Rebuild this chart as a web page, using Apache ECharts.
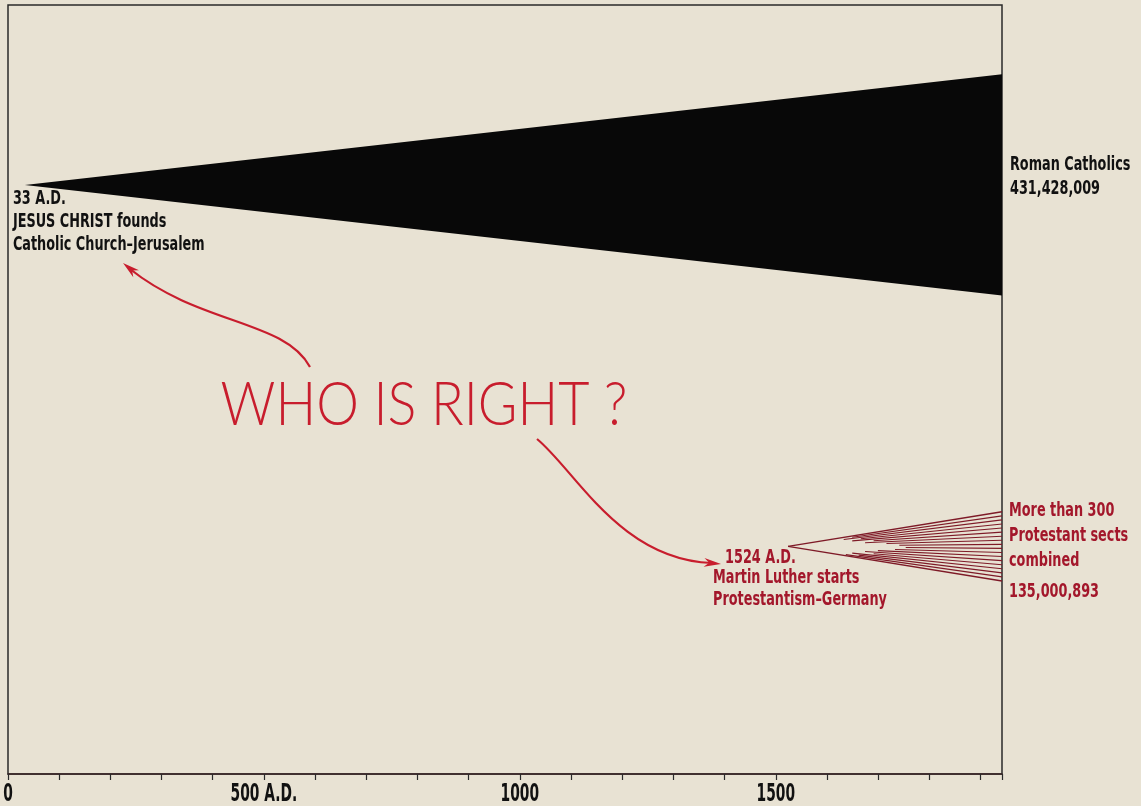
<!DOCTYPE html>
<html>
<head>
<meta charset="utf-8">
<script src="https://cdn.jsdelivr.net/npm/echarts@6/dist/echarts.min.js"></script>
<style>
  html, body { margin: 0; padding: 0; background: #e8e2d3; }
  #chart { width: 1141px; height: 806px; }
</style>
</head>
<body>
<div id="chart"></div>
<script>
// ---- data ----
const groupNames = ['Roman Catholics', 'Protestant sects'];
const startYears = [33, 1524];
const endYears = [1942, 1942];
const membersMillions = [431.428009, 135.000893];
const memberLabels = ['431,428,009', '135,000,893'];
const startLabels = [
  ['33 A.D.', 'JESUS CHRIST founds', 'Catholic Church\u2013Jerusalem'],
  ['1524 A.D.', 'Martin Luther starts', 'Protestantism\u2013Germany']
];
const endLabels = [
  ['Roman Catholics'],
  ['More than 300', 'Protestant sects', 'combined']
];
const tickValues = [0, 500, 1000, 1500];
const tickLabels = ['0', '500 A.D.', '1000', '1500'];
const title = 'WHO IS RIGHT ?';

// ---- layout (not data) ----
const X_MAX = 1942;
const Y_MAX = 1500;
const CENTER = [1149, 444];   // vertical centre of each wedge on the hidden axis
const FONT = '"Liberation Sans Narrow","Arial Narrow","DejaVu Sans Condensed",sans-serif';
const SX = 0.75;              // horizontal squeeze to imitate the condensed type
const BLACK = '#111';
const DARKRED = '#a3172b';
const FANRED = '#7e1a27';
const RED = '#c81d2d';
const fanStarts = [0, 0.3, 0.26, 0.34, 0.3, 0.4, 0.36, 0.46, 0.52, 0.55, 0.5, 0.42, 0.36, 0.4, 0.3, 0.33, 0.27, 0];

const chart = echarts.init(document.getElementById('chart'), null, { renderer: 'canvas' });

function label(x, y, text, color, lh) {
  return {
    type: 'text', x: x, y: y, scaleX: SX,
    style: { text: text, fill: color, fontFamily: FONT, fontWeight: 'bold', fontSize: 19,
             lineHeight: lh || 22, align: 'left', verticalAlign: 'top' }
  };
}

function wedgeItem(params, api) {
  const s = api.value(0), e = api.value(1), m = api.value(2), idx = api.value(3);
  const c = CENTER[idx];
  const apex = api.coord([s, c]);
  const top = api.coord([e, c + m / 2]);
  const bot = api.coord([e, c - m / 2]);
  const mid = api.coord([e, c]);
  const children = [];
  if (idx === 0) {
    children.push({
      type: 'polygon',
      shape: { points: [apex, top, bot] },
      style: { fill: '#080808' }
    });
    children.push(label(apex[0] - 12, apex[1] + 3, startLabels[0].join('\n'), BLACK, 23));
    children.push(label(mid[0] + 8, mid[1] - 32, endLabels[0].concat([memberLabels[0]]).join('\n'), BLACK, 24));
  } else {
    const n = fanStarts.length;
    for (let i = 0; i < n; i++) {
      const t = i / (n - 1);
      const end = [top[0], top[1] + (bot[1] - top[1]) * t];
      const f = fanStarts[i];
      const st = [apex[0] + (end[0] - apex[0]) * f, apex[1] + (end[1] - apex[1]) * f];
      children.push({
        type: 'line',
        shape: { x1: st[0], y1: st[1], x2: end[0], y2: end[1] },
        style: { stroke: FANRED, lineWidth: (i === 0 || i === n - 1) ? 1.5 : 1.1 }
      });
    }
    children.push(label(apex[0] - 63, apex[1] + 1, startLabels[1][0], DARKRED));
    children.push(label(apex[0] - 75, apex[1] + 21, startLabels[1].slice(1).join('\n'), DARKRED, 22));
    children.push(label(mid[0] + 7, mid[1] - 48, endLabels[1].join('\n'), DARKRED, 25));
    children.push(label(mid[0] + 7, mid[1] + 35, memberLabels[1], DARKRED));
  }
  return { type: 'group', children: children };
}

function tickLabelItem(params, api) {
  const v = api.value(0);
  const p = api.coord([v, 0]);
  const k = tickValues.indexOf(v);
  return {
    type: 'text', x: p[0], y: p[1] + 9, scaleX: 0.64,
    style: { text: tickLabels[k], fill: '#111', fontFamily: FONT, fontWeight: 'bold',
             fontSize: 24, align: 'center', verticalAlign: 'top' }
  };
}

const seriesData = groupNames.map((g, i) => ({
  name: g,
  value: [startYears[i], endYears[i], membersMillions[i], i]
}));

function arrowHead(tip, from, color) {
  const dx = tip[0] - from[0], dy = tip[1] - from[1];
  const len = Math.sqrt(dx * dx + dy * dy);
  const ux = dx / len, uy = dy / len;
  const L = 17, W = 4.5;
  const bx = tip[0] - ux * L, by = tip[1] - uy * L;
  return {
    type: 'polygon',
    shape: { points: [tip, [bx - uy * W, by + ux * W], [tip[0] - ux * L * 0.7, tip[1] - uy * L * 0.7], [bx + uy * W, by - ux * W]] },
    style: { fill: color }
  };
}

chart.setOption({
  backgroundColor: '#e8e2d3',
  animation: false,
  grid: {
    left: 8, right: 139, top: 5, bottom: 32,
    show: true, borderColor: '#2a2a2a', borderWidth: 1.5, backgroundColor: 'transparent'
  },
  xAxis: {
    type: 'value', min: 0, max: X_MAX, interval: 100,
    splitLine: { show: false },
    axisLine: { show: true, lineStyle: { color: '#3a2426', width: 1.5 } },
    axisTick: { show: true, length: 6, lineStyle: { color: '#2a2a2a', width: 1.2 } },
    axisLabel: { show: false }
  },
  yAxis: {
    type: 'value', min: 0, max: Y_MAX, show: false,
    splitLine: { show: false }
  },
  series: [{
    type: 'custom',
    renderItem: wedgeItem,
    encode: { x: [0, 1], y: 2 },
    data: seriesData,
    clip: false,
    silent: true
  }, {
    type: 'custom',
    renderItem: tickLabelItem,
    encode: { x: 0 },
    data: tickValues.map(v => [v]),
    clip: false,
    silent: true
  }],
  graphic: [
    {
      type: 'text', x: 424, y: 405, scaleX: 0.87,
      style: { text: title, fill: RED, fontFamily: 'Lato, "Open Sans", sans-serif', fontWeight: 300,
               fontSize: 62, align: 'center', verticalAlign: 'middle' }
    },
    { type: 'bezierCurve', shape: { x1: 310, y1: 367, cpx1: 285, cpy1: 320, cpx2: 200, cpy2: 325, x2: 130, y2: 269 },
      style: { stroke: RED, lineWidth: 2.2, fill: null } },
    arrowHead([123, 263], [140, 277], RED),
    { type: 'bezierCurve', shape: { x1: 537, y1: 439, cpx1: 575, cpy1: 470, cpx2: 620, cpy2: 560, x2: 712, y2: 563 },
      style: { stroke: RED, lineWidth: 2.2, fill: null } },
    arrowHead([721, 564], [700, 562], RED)
  ]
});
</script>
</body>
</html>
